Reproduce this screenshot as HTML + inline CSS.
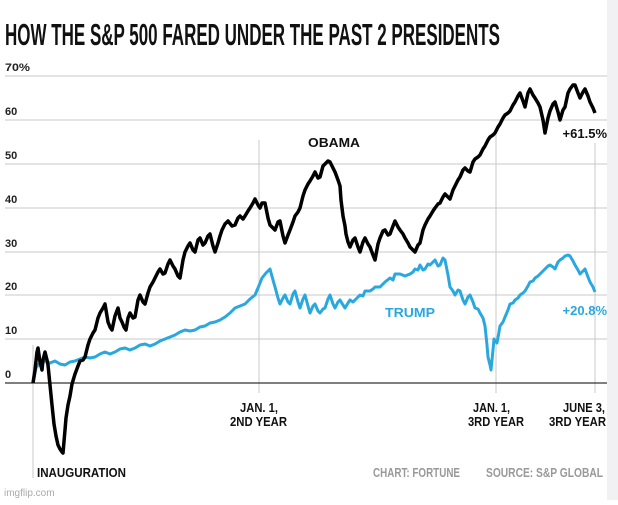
<!DOCTYPE html>
<html><head><meta charset="utf-8"><style>
body{margin:0;background:#fff}
svg text{font-family:"Liberation Sans",sans-serif;font-weight:bold}
</style></head><body>
<svg width="618" height="500" xmlns="http://www.w3.org/2000/svg">
<rect x="0" y="0" width="618" height="500" fill="#fff"/>
<rect x="607" y="0" width="11" height="500" fill="#f1f1f3"/>
<text x="5" y="45" font-size="31" fill="#111" textLength="495" lengthAdjust="spacingAndGlyphs">HOW THE S&amp;P 500 FARED UNDER THE PAST 2 PRESIDENTS</text>
<g stroke="#c8c8c8" stroke-width="1">
<line x1="5" y1="76" x2="607" y2="76"/><line x1="5" y1="120" x2="607" y2="120"/><line x1="5" y1="164" x2="607" y2="164"/><line x1="5" y1="208" x2="607" y2="208"/><line x1="5" y1="252" x2="607" y2="252"/><line x1="5" y1="295" x2="607" y2="295"/><line x1="5" y1="339" x2="607" y2="339"/>
<line x1="33" y1="345" x2="33" y2="478"/><line x1="259" y1="140" x2="259" y2="393"/><line x1="496" y1="135" x2="496" y2="393"/><line x1="595" y1="143" x2="595" y2="393"/>
</g>
<line x1="5" y1="383" x2="607" y2="383" stroke="#333" stroke-width="1.2"/>
<g font-size="11" fill="#222">
<text x="5" y="71" textLength="25" lengthAdjust="spacingAndGlyphs">70%</text><text x="5" y="115">60</text><text x="5" y="159">50</text><text x="5" y="203">40</text><text x="5" y="247">30</text><text x="5" y="290">20</text><text x="5" y="334">10</text><text x="5" y="378">0</text>
</g>
<g font-size="13" fill="#111">
<text x="240" y="412" textLength="38" lengthAdjust="spacingAndGlyphs">JAN. 1,</text><text x="230" y="426" textLength="57" lengthAdjust="spacingAndGlyphs">2ND YEAR</text>
<text x="473" y="412" textLength="37" lengthAdjust="spacingAndGlyphs">JAN. 1,</text><text x="468" y="426" textLength="56" lengthAdjust="spacingAndGlyphs">3RD YEAR</text>
<text x="563" y="412" textLength="42" lengthAdjust="spacingAndGlyphs">JUNE 3,</text><text x="549" y="426" textLength="57" lengthAdjust="spacingAndGlyphs">3RD YEAR</text>
<text x="308" y="147" textLength="52" lengthAdjust="spacingAndGlyphs">OBAMA</text>
<text x="37" y="477" textLength="89" lengthAdjust="spacingAndGlyphs">INAUGURATION</text>
</g>
<text x="373" y="477" font-size="13" fill="#999" textLength="87" lengthAdjust="spacingAndGlyphs">CHART: FORTUNE</text>
<text x="486" y="477" font-size="13" fill="#999" textLength="117" lengthAdjust="spacingAndGlyphs">SOURCE: S&amp;P GLOBAL</text>
<text x="4" y="496" font-size="10" fill="#aaa" style="font-weight:normal">imgflip.com</text>
<text x="607" y="138" font-size="13" fill="#111" text-anchor="end">+61.5%</text>
<text x="607" y="315" font-size="13" fill="#29a8e0" text-anchor="end">+20.8%</text>
<text x="385" y="317" font-size="13" fill="#29a8e0" textLength="50" lengthAdjust="spacingAndGlyphs">TRUMP</text>
<polyline fill="none" stroke="#29a8e0" stroke-width="3" stroke-linejoin="round" points="33,383 36,368 38,365 42,362 45,361 50,363 55,361 60,364 65,365 70,362 75,361 80,359 85,357 90,358 95,357 100,354 105,352 110,354 115,352 120,349 125,348 130,350 135,348 140,345 145,344 150,346 155,344 160,341 165,339 170,337 175,335 180,332 185,330 190,331 195,330 200,327 205,326 210,323 215,322 220,320 225,317 230,313 235,308 240,306 245,304 250,299 255,295 258,288 262,278 266,273 270,269 273,280 275,287 278,298 280,304 283,298 285,295 288,302 290,304 293,294 295,291 298,302 300,308 303,299 305,295 308,306 310,313 313,306 315,304 318,311 320,313 323,309 325,308 328,299 330,295 333,304 335,308 338,302 340,300 343,305 345,308 348,303 350,300 353,302 355,300 360,295 363,296 365,291 370,291 373,289 375,287 380,287 383,284 385,282 390,278 393,280 395,274 400,274 405,276 410,274 413,272 415,269 418,270 420,265 423,270 425,269 428,264 430,265 433,262 435,260 438,266 440,265 443,258 445,260 448,275 450,287 453,291 455,295 458,290 460,291 463,300 465,304 468,297 470,295 473,302 475,308 478,309 480,313 483,318 485,326 487,345 488,357 490,365 491,370 493,350 494,339 496,342 497,343 499,332 500,326 503,322 505,317 508,310 510,304 513,303 515,300 518,298 520,295 523,293 525,291 528,286 530,282 533,281 535,278 538,276 540,274 543,271 545,269 548,266 550,265 553,267 555,269 558,262 560,260 563,258 565,256 568,255 570,256 573,261 575,265 578,270 580,274 583,271 585,269 588,277 590,282 593,287 595,292"/>
<polyline fill="none" stroke="#000" stroke-width="3.5" stroke-linejoin="round" points="33,383 35,370 36,361 37,352 38,348 40,362 42,370 43,360 45,352 47,360 48,365 50,385 52,405 54,424 56,436 58,445 60,449 62,452 63,453 65,430 66,418 68,405 70,396 72,384 75,374 78,366 80,361 83,360 85,357 88,345 90,339 93,333 95,330 98,318 100,313 103,308 105,304 107,316 108,322 110,327 112,330 115,316 118,308 120,318 122,322 124,327 126,330 128,318 130,313 133,318 135,317 138,300 140,295 143,302 145,304 148,293 150,287 153,282 155,278 158,272 160,269 163,274 165,273 168,264 170,260 173,266 175,269 178,276 180,278 183,260 185,252 188,246 190,243 193,250 195,252 198,240 200,238 203,245 205,243 208,236 210,234 213,246 215,252 217,246 218,243 220,236 222,230 225,224 228,221 232,226 235,225 238,218 240,216 243,219 245,216 248,211 250,208 253,203 255,199 258,205 260,208 262,203 265,203 268,218 270,225 273,228 275,230 278,222 280,221 283,236 285,243 288,235 290,230 293,222 295,216 298,212 300,208 303,196 305,190 308,184 310,181 313,176 315,172 318,178 320,177 323,166 325,164 328,161 330,162 333,168 335,172 338,180 340,186 341,200 343,216 345,226 346,234 348,242 350,247 353,240 355,238 358,247 360,252 363,242 365,238 368,244 370,247 373,255 375,260 378,244 380,238 383,231 385,230 388,235 390,234 393,226 395,221 398,227 400,230 403,234 405,238 408,243 410,247 413,250 415,252 418,245 420,243 423,230 425,225 428,219 430,216 433,211 435,208 438,204 440,203 443,197 445,194 448,197 450,199 453,190 455,186 458,180 460,177 463,170 465,168 468,171 470,172 473,162 475,159 478,157 480,155 483,149 485,146 488,140 490,137 493,135 495,133 498,127 500,124 503,118 505,115 508,113 510,111 513,105 515,102 518,96 520,93 523,101 525,107 528,93 530,89 533,95 535,98 538,103 540,107 543,120 545,133 548,118 550,111 553,104 555,102 558,112 560,120 563,110 565,107 568,93 570,89 573,85 575,85 578,93 580,98 583,92 585,89 588,96 590,102 593,108 595,113"/>
</svg>
</body></html>
